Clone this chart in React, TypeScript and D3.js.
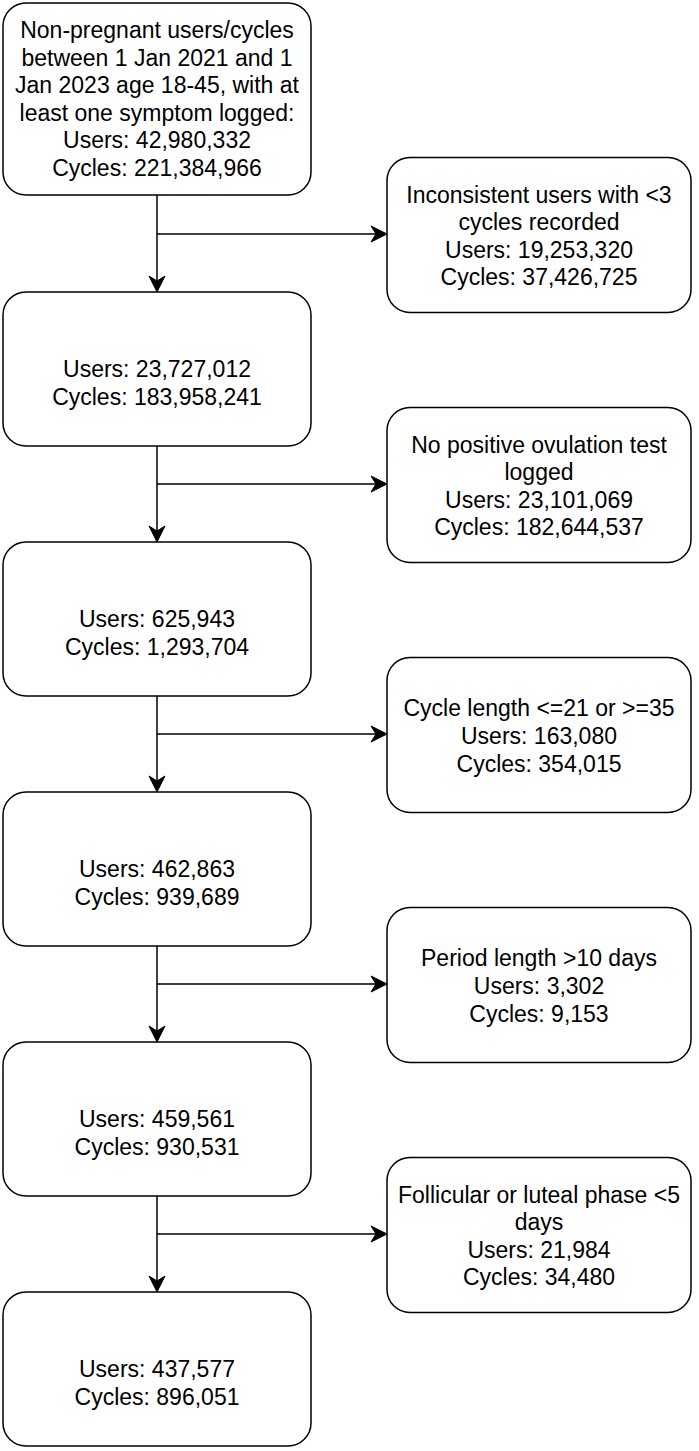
import React from "react";
import * as d3 from "d3";

// flow of kept users/cycles through each filter step
const stepTitles: string[][] = [
  [
    "Non-pregnant users/cycles",
    "between 1 Jan 2021 and 1",
    "Jan 2023 age 18-45, with at",
    "least one symptom logged:",
  ],
  [""],
  [""],
  [""],
  [""],
  [""],
];
const keptUsers = [42980332, 23727012, 625943, 462863, 459561, 437577];
const keptCycles = [221384966, 183958241, 1293704, 939689, 930531, 896051];

// excluded at each step
const exclTitles: string[][] = [
  ["Inconsistent users with <3", "cycles recorded"],
  ["No positive ovulation test", "logged"],
  ["Cycle length <=21 or >=35"],
  ["Period length >10 days"],
  ["Follicular or luteal phase <5", "days"],
];
const exclUsers = [19253320, 23101069, 163080, 3302, 21984];
const exclCycles = [37426725, 182644537, 354015, 9153, 34480];

const W = 699;
const H = 1451;
const fmt = d3.format(",");
const FS = 23;
const LH = FS * 1.2;

export default function App() {
  // vertical placement of each step box (first box is taller)
  const topScale = d3.scaleLinear().domain([1, 5]).range([292, 1292]);
  const boxTop = (i: number) => (i === 0 ? 3 : topScale(i));
  const boxBottom = (i: number) => (i === 0 ? 195 : topScale(i) + 154);
  const branchY = (i: number) => topScale(i + 1) - 58;

  const mainX = d3.scaleLinear().domain([0, 1]).range([3, 311]);
  const sideX = d3.scaleLinear().domain([0, 1]).range([387, 691]);
  const cx = mainX(0.5);
  const sideCx = sideX(0.5);
  const sideH = 155;

  const line = d3.line<[number, number]>();

  const arrowDown = (x: number, y: number) =>
    line([
      [x, y],
      [x - 8, y - 16],
      [x, y - 11],
      [x + 8, y - 16],
    ]) + "Z";
  const arrowRight = (x: number, y: number) =>
    line([
      [x, y],
      [x - 16, y - 8],
      [x - 11, y],
      [x - 16, y + 8],
    ]) + "Z";

  const textBlock = (lines: string[], x: number, cy: number, key: string) =>
    lines.map((t, k) => (
      <text
        key={key + k}
        x={x}
        y={cy + (k - (lines.length - 1) / 2) * LH}
        textAnchor="middle"
        dominantBaseline="central"
        fontSize={FS}
        fontFamily="'Liberation Sans', Arial, Helvetica, sans-serif"
        fill="#000"
      >
        {t}
      </text>
    ));

  return (
    <svg
      width={W}
      height={H}
      style={{ position: "absolute", left: 0, top: 0, background: "#fff" }}
    >
      {stepTitles.map((title, i) => {
        const y0 = boxTop(i);
        const y1 = boxBottom(i);
        const lines = [
          ...title,
          `Users: ${fmt(keptUsers[i])}`,
          `Cycles: ${fmt(keptCycles[i])}`,
        ];
        return (
          <g key={"m" + i}>
            <rect
              x={mainX(0)}
              y={y0}
              width={mainX(1) - mainX(0)}
              height={y1 - y0}
              rx={23}
              ry={23}
              fill="#fff"
              stroke="#000"
              strokeWidth={1.5}
            />
            {textBlock(lines, cx, (y0 + y1) / 2, "mt" + i)}
          </g>
        );
      })}

      {exclTitles.map((title, i) => {
        const by = branchY(i);
        const sc = by + 1;
        const y0 = sc - sideH / 2;
        const nextTop = boxTop(i + 1);
        const lines = [
          ...title,
          `Users: ${fmt(exclUsers[i])}`,
          `Cycles: ${fmt(exclCycles[i])}`,
        ];
        return (
          <g key={"s" + i}>
            <path
              d={line([
                [cx, boxBottom(i)],
                [cx, nextTop - 11],
              ]) as string}
              stroke="#000"
              strokeWidth={1.5}
              fill="none"
            />
            <path d={arrowDown(cx, nextTop)} fill="#000" stroke="#000" strokeWidth={1} />
            <path
              d={line([
                [cx, by],
                [sideX(0) - 11, by],
              ]) as string}
              stroke="#000"
              strokeWidth={1.5}
              fill="none"
            />
            <path d={arrowRight(sideX(0), by)} fill="#000" stroke="#000" strokeWidth={1} />
            <rect
              x={sideX(0)}
              y={y0}
              width={sideX(1) - sideX(0)}
              height={sideH}
              rx={23}
              ry={23}
              fill="#fff"
              stroke="#000"
              strokeWidth={1.5}
            />
            {textBlock(lines, sideCx, sc + 1, "st" + i)}
          </g>
        );
      })}
    </svg>
  );
}
